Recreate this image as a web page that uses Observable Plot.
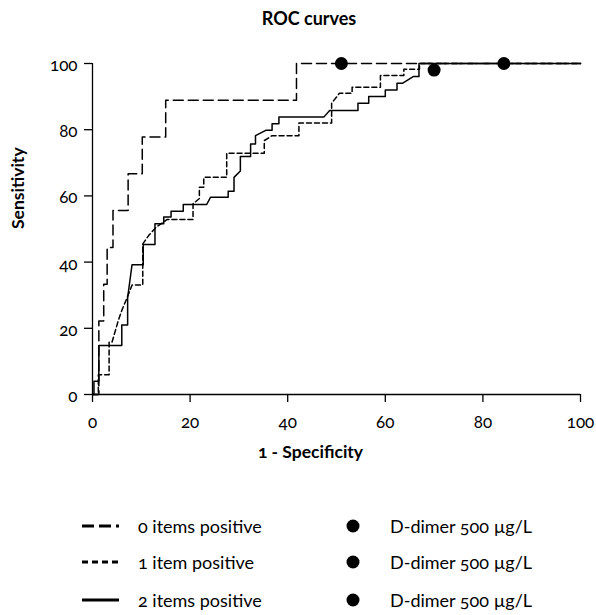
<!DOCTYPE html>
<html><head><meta charset="utf-8">
<script src="https://cdn.jsdelivr.net/npm/d3@7"></script>
<script src="https://cdn.jsdelivr.net/npm/@observablehq/plot@0.6"></script>
<style>
body{margin:0;background:#fff;font-family:Lato,"Open Sans",sans-serif;color:#000;font-variant-numeric:oldstyle-nums;}
#wrap{position:relative;width:596px;height:615px;overflow:hidden;}
#title{position:absolute;left:209px;width:200px;top:6px;line-height:24px;text-align:center;font-weight:bold;font-size:18px;}
#chart{position:absolute;left:0;top:40px;}
#chart svg text{font-variant-numeric:oldstyle-nums;}
.lg{position:absolute;height:24px;line-height:24px;font-size:18px;white-space:nowrap;}
.lg svg{position:absolute;left:0;top:0;}
.lg span{position:absolute;top:0;}
</style></head>
<body>
<div id="wrap">
  <div id="title">ROC curves</div>
  <div id="chart"></div>
  <div id="legend"></div>
</div>
<script>
// ---- data ----
const tickValues = [0, 20, 40, 60, 80, 100];
const seriesNames = ["0 items positive", "1 item positive", "2 items positive"];
const markerNames = ["D-dimer 500 µg/L", "D-dimer 500 µg/L", "D-dimer 500 µg/L"];

const curve0X = [0, 1.3, 1.3, 2.3, 2.3, 3.0, 3.0, 4.2, 4.2, 7.3, 7.3, 10.2, 10.2, 15.0, 15.0, 41.8, 41.8, 100];
const curve0Y = [0, 0, 22.2, 22.2, 33.3, 33.3, 44.4, 44.4, 55.6, 55.6, 66.7, 66.7, 77.8, 77.8, 88.9, 88.9, 100, 100];

const curve1X = [0, 1.2, 1.2, 3.4, 3.4, 4.0, 5.3, 6.0, 7.0, 8.1, 10.3, 10.3, 11.5, 13.0, 15.3, 20.6, 20.6, 21.9, 21.9, 22.8, 22.8, 27.5, 27.5, 35.2, 35.2, 36.8, 42.3, 42.3, 49.0, 49.0, 50.6, 53.2, 53.2, 59.0, 59.0, 63.8, 63.8, 67.0, 67.0, 100];
const curve1Y = [0, 0, 6.0, 6.0, 15.8, 15.8, 22.4, 25.4, 28.9, 33.1, 33.1, 45.5, 48.0, 50.5, 52.9, 52.9, 57.6, 59.2, 62.6, 62.6, 65.6, 65.6, 72.9, 72.9, 76.7, 78.2, 78.2, 82.0, 82.0, 88.0, 91.0, 91.0, 92.8, 92.8, 96.4, 96.4, 98.3, 98.3, 100, 100];

const curve2X = [0, 0.3, 0.3, 1.3, 1.3, 6.0, 6.0, 7.2, 7.2, 8.1, 10.4, 10.4, 12.8, 12.8, 14.6, 14.6, 16.1, 16.1, 18.6, 18.6, 23.4, 24.2, 27.8, 27.8, 29.0, 29.0, 30.3, 30.3, 32.4, 32.4, 33.4, 33.4, 35.5, 36.8, 36.8, 38.2, 38.2, 47.4, 48.6, 54.4, 54.4, 56.6, 56.6, 60.0, 60.0, 62.4, 62.4, 63.5, 65.8, 66.9, 66.9, 100];
const curve2Y = [0, 0, 4.0, 4.0, 14.8, 14.8, 21.0, 21.0, 29.3, 39.2, 39.2, 45.3, 45.3, 51.6, 51.6, 53.6, 53.6, 55.4, 55.4, 57.4, 57.4, 59.6, 59.6, 61.4, 61.4, 65.6, 67.5, 71.9, 71.9, 75.7, 75.7, 78.2, 79.8, 79.8, 81.8, 81.8, 83.8, 83.8, 85.8, 85.8, 88.0, 88.0, 90.0, 90.0, 92.0, 92.0, 94.0, 94.0, 96.1, 96.1, 100, 100];

const dotX = [51, 70, 84.3];
const dotY = [100, 98, 100];

// ---- build ----
const toRows = (xs, ys) => xs.map((x, i) => ({x, y: ys[i]}));
const c0 = toRows(curve0X, curve0Y);
const c1 = toRows(curve1X, curve1Y);
const c2 = toRows(curve2X, curve2Y);
const dots = toRows(dotX, dotY);

const FONT = 'Lato, "Open Sans", sans-serif';
const chart = Plot.plot({
  width: 596,
  height: 430,
  marginTop: 23,
  marginLeft: 92,
  marginRight: 16,
  marginBottom: 76,
  style: {fontFamily: FONT, fontSize: "17px", color: "#000", background: "#fff", overflow: "visible"},
  x: {domain: [0, 100]},
  y: {domain: [0, 100]},
  marks: [
    // tick marks (labels drawn below as text so old-style figures apply)
    Plot.axisX({ticks: tickValues, tickSize: 8, text: null, label: null, strokeWidth: 1.3}),
    Plot.axisY({ticks: tickValues, tickSize: 8, text: null, label: null, strokeWidth: 1.3}),
    Plot.text(tickValues, {x: d => d, y: 0, dy: 28, text: d => String(d), fontSize: 17, fill: "#000"}),
    Plot.text(tickValues, {x: 0, y: d => d, dx: -15, dy: 2, textAnchor: "end", text: d => String(d), fontSize: 17, fill: "#000"}),
    Plot.ruleY([0], {stroke: "#000", strokeWidth: 1.3}),
    Plot.ruleX([0], {stroke: "#000", strokeWidth: 1.3}),
    Plot.line(c0, {x: "x", y: "y", stroke: "#000", strokeWidth: 1.5, strokeDasharray: "10,5"}),
    Plot.line(c1, {x: "x", y: "y", stroke: "#000", strokeWidth: 1.5, strokeDasharray: "5,3"}),
    Plot.line(c2, {x: "x", y: "y", stroke: "#000", strokeWidth: 1.5}),
    Plot.dot(dots, {x: "x", y: "y", r: 6.5, fill: "#000", stroke: null}),
    Plot.text(["1 - Specificity"], {frameAnchor: "bottom", dy: 63, dx: -26, fontWeight: "bold", fontSize: 17.5, fill: "#000"}),
    Plot.text(["Sensitivity"], {frameAnchor: "left", dx: -74, rotate: -90, fontWeight: "bold", fontSize: 17.5, fill: "#000"})
  ]
});
document.getElementById("chart").appendChild(chart);

// ---- legend ----
const legend = document.getElementById("legend");
const rowY = [526, 562, 600];
const dashes = ["12,5", "6,4", null];
seriesNames.forEach((name, i) => {
  const d = document.createElement("div");
  d.className = "lg";
  d.style.left = "82px";
  d.style.top = (rowY[i] - 12) + "px";
  d.style.width = "220px";
  d.innerHTML = `<svg width="40" height="24"><line x1="0" x2="37" y1="12" y2="12" stroke="#000" stroke-width="3" ${dashes[i] ? `stroke-dasharray="${dashes[i]}"` : ""}/></svg><span style="left:56px">${name}</span>`;
  legend.appendChild(d);
});
markerNames.forEach((name, i) => {
  const d = document.createElement("div");
  d.className = "lg";
  d.style.left = "344px";
  d.style.top = (rowY[i] - 12) + "px";
  d.style.width = "250px";
  d.innerHTML = `<svg width="20" height="24"><circle cx="9" cy="12" r="6.5" fill="#000"/></svg><span style="left:46px">${name}</span>`;
  legend.appendChild(d);
});
</script>
</body></html>
